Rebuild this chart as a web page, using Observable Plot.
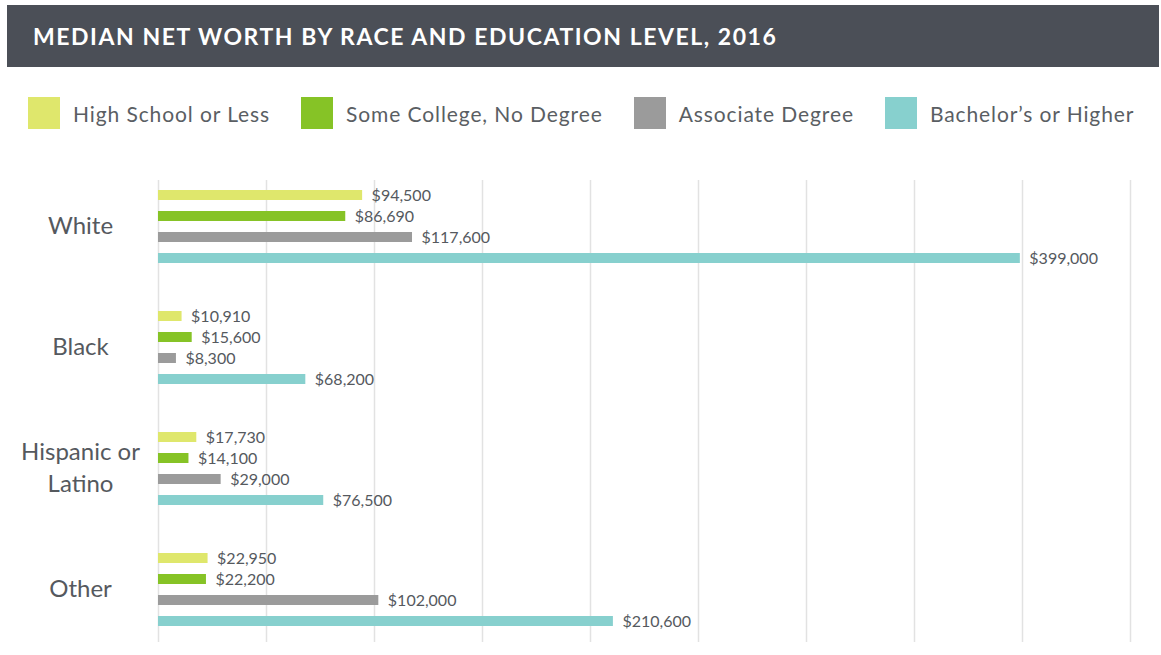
<!DOCTYPE html>
<html><head><meta charset="utf-8">
<script src="https://cdn.jsdelivr.net/npm/d3@7"></script>
<script src="https://cdn.jsdelivr.net/npm/@observablehq/plot@0.6"></script>
<style>
body{margin:0;background:#fff;font-family:Lato,"Open Sans",sans-serif;width:1161px;height:655px;overflow:hidden;position:relative}
#header{position:absolute;left:7px;top:5px;width:1152px;height:62px;background:#4b4f57;color:#fff;font-weight:700;font-size:23px;line-height:62px;padding-left:26px;box-sizing:border-box;letter-spacing:1.55px;white-space:nowrap}
#legend{position:absolute;left:28px;top:97px;display:flex;gap:31px;align-items:center}
.item{display:flex;align-items:center;gap:13px;font-size:21px;letter-spacing:0.9px;color:#5a5e63;white-space:nowrap}
.sw{width:32px;height:32px}
#chart{position:absolute;left:0;top:166px}
</style>
</head><body>
<div id="header">MEDIAN NET WORTH BY RACE AND EDUCATION LEVEL, 2016</div>
<div id="legend"></div>
<div id="chart"></div>
<script>
const races = ["White", "Black", "Hispanic or Latino", "Other"];
const raceLabels = ["White", "Black", "Hispanic or\nLatino", "Other"];
const levels = ["High School or Less", "Some College, No Degree", "Associate Degree", "Bachelor’s or Higher"];
const colors = ["#dfe76c", "#86c326", "#9b9b9b", "#87d0ce"];
const white = [94500, 86690, 117600, 399000];
const black = [10910, 15600, 8300, 68200];
const hispanic = [17730, 14100, 29000, 76500];
const other = [22950, 22200, 102000, 210600];
const gridTicks = [0, 50000, 100000, 150000, 200000, 250000, 300000, 350000, 400000, 450000];

const series = [white, black, hispanic, other];
const data = [];
races.forEach((r, i) => levels.forEach((l, j) => data.push({race: r, level: l, value: series[i][j]})));
const grid = [];
races.forEach(r => gridTicks.forEach(t => grid.push({race: r, x: t})));
const fmt = d3.format(",");

// legend
const legend = document.getElementById("legend");
levels.forEach((l, i) => {
  const it = document.createElement("div");
  it.className = "item";
  it.innerHTML = `<div class="sw" style="background:${colors[i]}"></div><span>${l}</span>`;
  legend.appendChild(it);
});

const chart = Plot.plot({
  width: 1161,
  height: 484,
  marginLeft: 158,
  marginRight: 31,
  marginTop: 0,
  marginBottom: 0,
  style: {fontFamily: "Lato, 'Open Sans', sans-serif", background: "transparent"},
  x: {domain: [0, 450000], axis: null},
  y: {domain: levels, axis: null, paddingInner: 0.53, paddingOuter: 1.1},
  fy: {domain: races, axis: null, padding: 0},
  color: {domain: levels, range: colors},
  marks: [
    Plot.ruleX(grid.filter(d => d.race === "White"), {x: "x", fy: "race", stroke: "#e2e2e2", strokeWidth: 1.5, insetTop: 14}),
    Plot.ruleX(grid.filter(d => d.race === "Black" || d.race === "Hispanic or Latino"), {x: "x", fy: "race", stroke: "#e2e2e2", strokeWidth: 1.5}),
    Plot.ruleX(grid.filter(d => d.race === "Other"), {x: "x", fy: "race", stroke: "#e2e2e2", strokeWidth: 1.5, insetBottom: 8}),
    Plot.barX(data, {x: "value", y: "level", fy: "race", fill: "level"}),
    Plot.text(data, {x: "value", y: "level", fy: "race", text: d => "$" + fmt(d.value), textAnchor: "start", dx: 9, fontSize: 16, fill: "#55595e", style: "letter-spacing:0.6px"}),
    Plot.text(races, {fy: d => d, text: d => raceLabels[races.indexOf(d)], frameAnchor: "left", dx: -78, dy: -3, textAnchor: "middle", fontSize: 24, fill: "#55595e", lineHeight: 1.3, style: "letter-spacing:0.6px"})
  ]
});
document.getElementById("chart").appendChild(chart);
</script>
</body></html>
